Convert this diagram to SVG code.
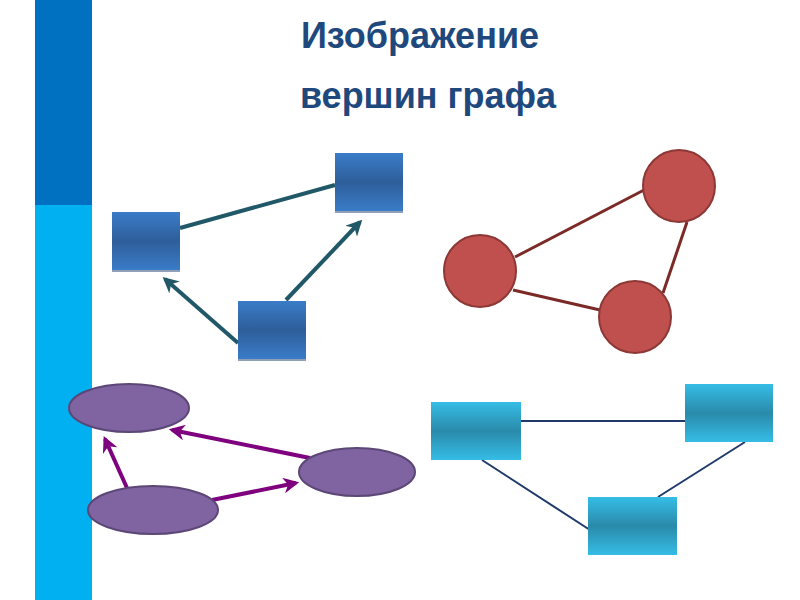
<svg xmlns="http://www.w3.org/2000/svg" width="800" height="600" viewBox="0 0 800 600">
<style>
.t{font-family:"Liberation Sans",Arial,sans-serif;font-weight:bold;font-size:36px;fill:#1F497D;text-anchor:middle}
.b{fill:url(#gb)}.c{fill:url(#gc)}
.r{fill:#C0504D;stroke:#8C3836;stroke-width:2}
.p{fill:#8064A2;stroke:#5C4776;stroke-width:2}
.lt{stroke:#215868;stroke-width:4;fill:none}
.lr{stroke:#7B2A27;stroke-width:3;fill:none}
.lp{stroke:#7F007F;stroke-width:4;fill:none}
.lc{stroke:#1F3A6A;stroke-width:2;fill:none}
</style>
<defs>
<linearGradient id="gb" x1="0" y1="0" x2="0" y2="1"><stop offset="0" stop-color="#3A7CC8"/><stop offset="0.5" stop-color="#2E5E9A"/><stop offset="1" stop-color="#3A7CC8"/></linearGradient>
<linearGradient id="gc" x1="0" y1="0" x2="0" y2="1"><stop offset="0" stop-color="#35BDE6"/><stop offset="0.5" stop-color="#2A8AAA"/><stop offset="1" stop-color="#35BDE6"/></linearGradient>
<marker id="mt" viewBox="0 0 10 10" refX="8" refY="5" markerWidth="4" markerHeight="4" orient="auto"><path d="M0,0L10,5L0,10L3,5Z" fill="#215868"/></marker>
<marker id="mp" viewBox="0 0 10 10" refX="8" refY="5" markerWidth="4" markerHeight="4" orient="auto"><path d="M0,0L10,5L0,10L3,5Z" fill="#7F007F"/></marker>
</defs>
<rect x="35" y="0" width="57" height="205" fill="#0070C0"/>
<rect x="35" y="205" width="57" height="395" fill="#00B0F0"/>
<text class="t" x="420" y="48">Изображение</text>
<text class="t" x="428" y="108">вершин графа</text>
<g id="connectors">
<line class="lt" x1="180" y1="228" x2="335" y2="185"/>
<line class="lt" x1="238" y1="343" x2="165" y2="279" marker-end="url(#mt)"/>
<line class="lt" x1="286" y1="300" x2="360" y2="222" marker-end="url(#mt)"/>
<line class="lr" x1="515" y1="257" x2="644" y2="190"/>
<line class="lr" x1="687" y1="222" x2="663" y2="293"/>
<line class="lr" x1="513" y1="290" x2="600" y2="310"/>
<line class="lp" x1="127" y1="488" x2="105" y2="439" marker-end="url(#mp)"/>
<line class="lp" x1="310" y1="458" x2="172" y2="430" marker-end="url(#mp)"/>
<line class="lp" x1="212" y1="500" x2="296" y2="483" marker-end="url(#mp)"/>
<line class="lc" x1="521" y1="421" x2="685" y2="421"/>
<line class="lc" x1="482" y1="460" x2="590" y2="530"/>
<line class="lc" x1="745" y1="442" x2="658" y2="497"/>
</g>
<g id="b1"><rect class="b" x="112" y="212" width="68" height="58"/><rect x="112" y="270" width="68" height="2" fill="#8FA0B8"/></g>
<g id="b2"><rect class="b" x="335" y="153" width="68" height="58"/><rect x="335" y="211" width="68" height="2" fill="#8FA0B8"/></g>
<g id="b3"><rect class="b" x="238" y="301" width="68" height="58"/><rect x="238" y="359" width="68" height="2" fill="#8FA0B8"/></g>
<g id="r1"><circle class="r" cx="480" cy="271" r="36"/></g>
<g id="r2"><circle class="r" cx="679" cy="186" r="36"/></g>
<g id="r3"><circle class="r" cx="635" cy="317" r="36"/></g>
<g id="p1"><ellipse class="p" cx="129" cy="408" rx="60" ry="24"/></g>
<g id="p2"><ellipse class="p" cx="153" cy="510" rx="65" ry="24"/></g>
<g id="p3"><ellipse class="p" cx="357" cy="472" rx="58" ry="24"/></g>
<g id="c1"><rect class="c" x="431" y="402" width="90" height="58"/></g>
<g id="c2"><rect class="c" x="685" y="384" width="88" height="58"/></g>
<g id="c3"><rect class="c" x="588" y="497" width="89" height="58"/></g>
</svg>
